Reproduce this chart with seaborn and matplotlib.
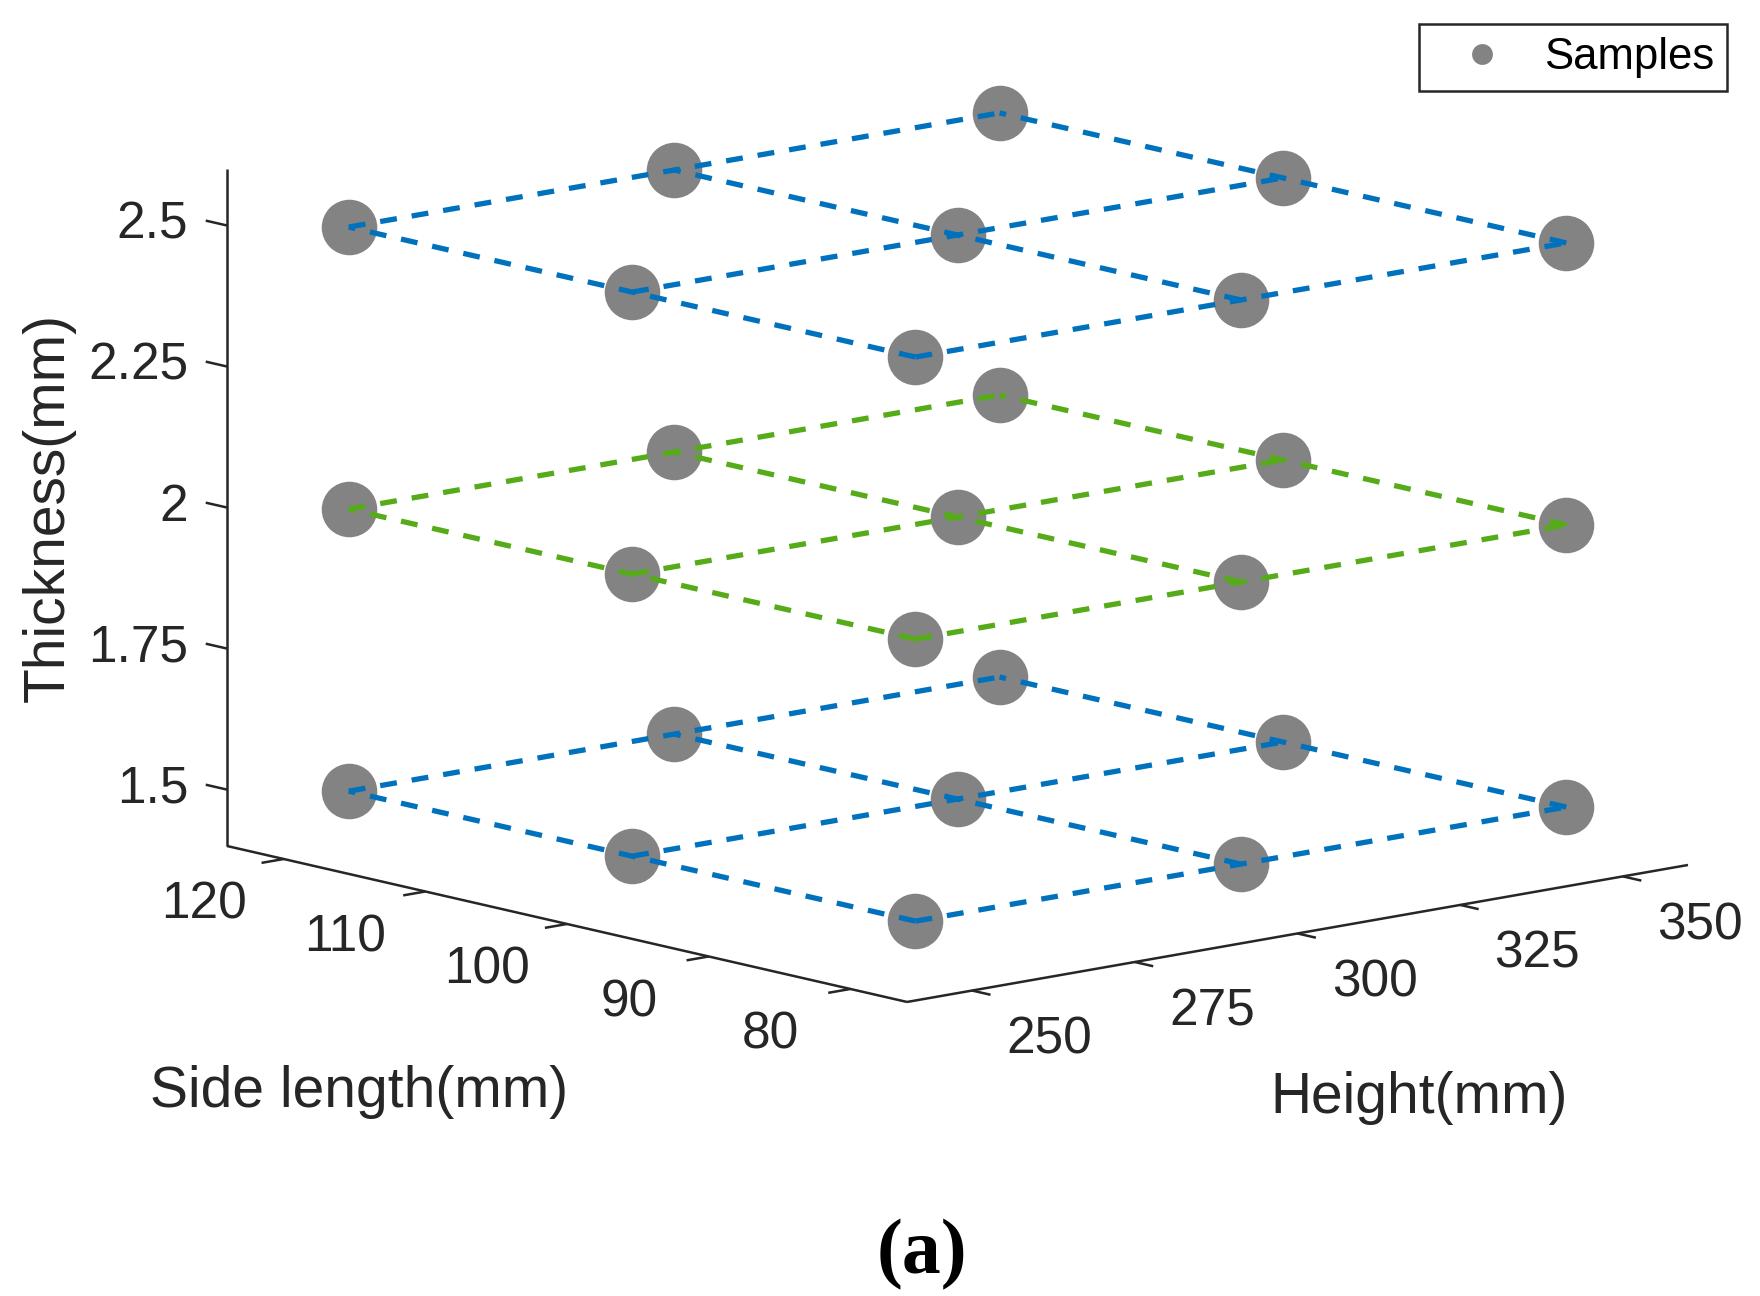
import numpy as np
import matplotlib
matplotlib.use('Agg')
import matplotlib.pyplot as plt
import matplotlib.transforms as mtransforms
import seaborn as sns
from matplotlib.lines import Line2D
from mpl_toolkits.mplot3d import proj3d

# design points: 3 x 3 x 3 full factorial
side_lengths = [80, 100, 120]
heights = [250, 300, 350]
thicknesses = [1.5, 2.0, 2.5]
layer_colors = ['#0072BD', '#56AB19', '#0072BD']

height_ticks = [250, 275, 300, 325, 350]
side_ticks = [80, 90, 100, 110, 120]
thick_ticks = [1.5, 1.75, 2.0, 2.25, 2.5]
thick_tick_labels = ['1.5', '1.75', '2', '2.25', '2.5']

height_lim = (240, 360)
side_lim = (76, 124)
thick_lim = (1.4, 2.6)

sns.set_style('white')
plt.rcParams['font.family'] = ['Liberation Sans', 'DejaVu Sans']

W, H = 1760, 1296
AXC = '#262626'
fig = plt.figure(figsize=(W / 100, H / 100), dpi=100)
ax = fig.add_axes([0, 0, 1, 1], projection='3d', computed_zorder=False)
ax.set_proj_type('ortho')
ax.view_init(elev=11.57, azim=-131.17)
ax.set_xlim(*height_lim)
ax.set_ylim(*side_lim)
ax.set_zlim(*thick_lim)
ax.set_box_aspect((1.0, 0.9957, 0.666))
ax.set_axis_off()

# samples
hh, ss, tt = np.meshgrid(heights, side_lengths, thicknesses, indexing='ij')
ax.plot(hh.ravel(), ss.ravel(), tt.ravel(), ls='none', marker='o', ms=40,
        mew=0, color='#838383', zorder=2)

# dashed grid inside each thickness layer
dash = (0, (3.2, 2.85))
lw = 3.8
for t, c in zip(thicknesses, layer_colors):
    for s in side_lengths:
        ax.plot(heights, [s] * len(heights), [t] * len(heights),
                ls=dash, lw=lw, color=c, zorder=3)
    for h in heights:
        ax.plot([h] * len(side_lengths), side_lengths, [t] * len(side_lengths),
                ls=dash, lw=lw, color=c, zorder=3)

# axis lines and tick marks (MATLAB-like, no box)
h0, h1 = height_lim
s0, s1 = side_lim
z0, z1 = thick_lim
akw = dict(color=AXC, lw=1.8, zorder=1, solid_capstyle='butt')
ax.plot([h0, h0], [s1, s1], [z0, z1], **akw)
ax.plot([h0, h0], [s1, s0], [z0, z0], **akw)
ax.plot([h0, h1], [s0, s0], [z0, z0], **akw)
for s in side_ticks:
    ax.plot([h0, h0 - 3.4], [s, s], [z0, z0], **akw)
for h in height_ticks:
    ax.plot([h, h], [s0, s0 - 1.3], [z0, z0], **akw)
for t in thick_ticks:
    ax.plot([h0, h0], [s1, s1 + 1.5], [t, t], **akw)


def screen(x, y, z):
    px, py, _ = proj3d.proj_transform(x, y, z, ax.M)
    return ax.transData.transform((px, py))


# fit the projected box onto the reference frame
fig.canvas.draw()
tA = np.array([227.0, H - 846.0])
tB = np.array([1688.0, H - 865.0])
inv = ax.transAxes.inverted()
uA = inv.transform(screen(h0, s1, z0))
uB = inv.transform(screen(h1, s0, z0))
S = np.linalg.norm(tB - tA) / np.linalg.norm(uB - uA)
x0, y0 = tA - S * uA
ax.set_position([x0 / W, y0 / H, S / W, S / H])
fig.canvas.draw()

px_tr = mtransforms.IdentityTransform()
tkw = dict(fontsize=37, color=AXC, transform=px_tr)
for t, lab in zip(thick_ticks, thick_tick_labels):
    px, py = screen(h0, s1, t)
    fig.text(px - 39, py - 13, lab, ha='right', va='baseline', **tkw)
for s in side_ticks:
    px, py = screen(h0, s, z0)
    fig.text(px - 80, py - 60, str(s), ha='center', va='baseline', **tkw)
for h in height_ticks:
    px, py = screen(h, s0, z0)
    fig.text(px + 77, py - 63, str(h), ha='center', va='baseline', **tkw)

lkw = dict(fontsize=41, color=AXC, transform=px_tr)
fig.text(359, H - 1107, 'Side length(mm)', ha='center', va='baseline', **lkw)
fig.text(1419, H - 1113, 'Height(mm)', ha='center', va='baseline', **lkw)
fig.text(49, H - 508, 'Thickness(mm)', rotation=90, ha='center', va='center', **lkw)

handle = Line2D([], [], ls='none', marker='o', ms=15, mew=0, color='#838383')
leg = fig.legend([handle], ['Samples'], loc='upper right',
                 bbox_to_anchor=(1727, H - 24), bbox_transform=px_tr,
                 fontsize=31.5, frameon=True, fancybox=False, edgecolor=AXC,
                 framealpha=1, borderpad=0.3, handlelength=2.3,
                 handletextpad=0.25, borderaxespad=0)
leg.get_frame().set_linewidth(1.8)
for txt in leg.get_texts():
    txt.set_color('black')

fig.text(922, H - 1273, '(a)', ha='center', va='baseline', fontsize=56,
         fontweight='bold', family=['Liberation Serif', 'DejaVu Serif'],
         color='black', transform=px_tr)

fig.savefig('out.png', dpi=100, facecolor='white')
